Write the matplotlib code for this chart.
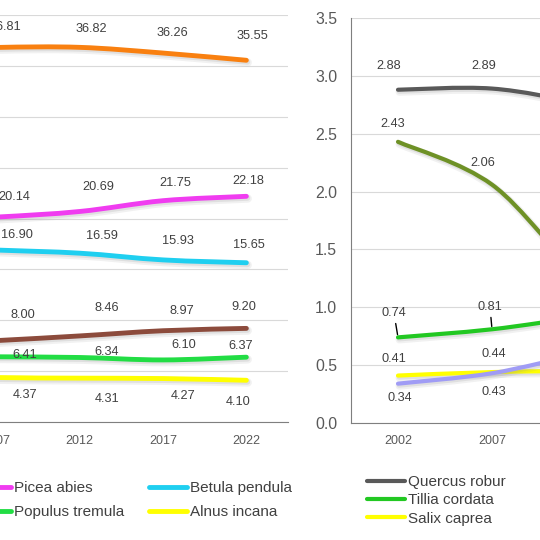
import matplotlib
matplotlib.use("Agg")
import matplotlib.pyplot as plt
from matplotlib.path import Path
from matplotlib.patches import PathPatch
from matplotlib.lines import Line2D
import matplotlib.patheffects as pe

plt.rcParams['font.family'] = ['Liberation Sans', 'DejaVu Sans']

years = ['2002', '2007', '2012', '2017', '2022']

# left chart: main species
left_names = ['Pinus sylvestris', 'Alnus glutinosa', 'Picea abies',
              'Populus tremula', 'Betula pendula', 'Alnus incana']
pinus = [36.50, 36.81, 36.82, 36.26, 35.55]
alnus_glut = [7.60, 8.00, 8.46, 8.97, 9.20]
picea = [19.80, 20.14, 20.69, 21.75, 22.18]
populus = [6.50, 6.41, 6.34, 6.10, 6.37]
betula = [17.20, 16.90, 16.59, 15.93, 15.65]
alnus_inc = [4.60, 4.37, 4.31, 4.27, 4.10]
left_values = [pinus, alnus_glut, picea, populus, betula, alnus_inc]
left_colors = ['#F98010', '#8C4B3C', '#F03CF0', '#22DD44', '#1FCFF0', '#FFFF00']

# right chart: minor species
right_names = ['Quercus robur', 'Tillia cordata', 'Salix caprea',
               'Fraxinus excelsior', 'Acer platanoides']
quercus = [2.88, 2.89, 2.76, 2.62, 2.50]
tillia = [0.74, 0.81, 0.92, 1.00, 1.05]
salix = [0.41, 0.44, 0.45, 0.44, 0.43]
fraxinus = [2.43, 2.06, 1.25, 0.90, 0.80]
acer = [0.34, 0.43, 0.60, 0.70, 0.75]
right_values = [quercus, tillia, salix, fraxinus, acer]
right_colors = ['#595959', '#22C822', '#FFFF00', '#6E9126', '#A09CF5']

# label offsets in pixels (dx, dy down)
left_offsets = [
    [(9, -20), (9, -20), (12, -18), (9, -20), (6, -24)],
    [(26, -26), (26, -26), (27, -28), (19, -20), (-3, -21)],
    [(18, -20), (18, -20), (19, -24), (12, -18), (2, -15)],
    [(28, -2), (28, -2), (27, -5), (21, -15), (-6, -11)],
    [(20, -15), (20, -15), (22, -17), (15, -19), (3, -18)],
    [(29, 17), (29, 17), (27, 21), (20, 17), (-8, 22)],
]
right_offsets = [
    [(-9, -24), (-8, -23), (0, -20), (0, -20), (0, -20)],
    [(-4, -24), (-2, -22), (0, -20), (0, -20), (0, -20)],
    [(-4, -17), (2, -18), (0, -18), (0, -18), (0, -18)],
    [(-5, -18), (-9, -22), (0, -20), (0, -20), (0, -20)],
    [(2, 14), (2, 19), (0, 16), (0, 16), (0, 16)],
]


def smooth_path(xs, ys):
    pts = list(zip(xs, ys))
    verts = [pts[0]]
    codes = [Path.MOVETO]
    for i in range(len(pts) - 1):
        p0 = pts[i - 1] if i > 0 else pts[i]
        p1 = pts[i]
        p2 = pts[i + 1]
        p3 = pts[i + 2] if i + 2 < len(pts) else pts[i + 1]
        c1 = (p1[0] + (p2[0] - p0[0]) / 6, p1[1] + (p2[1] - p0[1]) / 6)
        c2 = (p2[0] - (p3[0] - p1[0]) / 6, p2[1] - (p3[1] - p1[1]) / 6)
        verts += [c1, c2, p2]
        codes += [Path.CURVE4] * 3
    return Path(verts, codes)


def shadow(lw):
    return [pe.SimpleLineShadow(offset=(1.0, -1.6), shadow_color='#909090',
                                alpha=0.12, linewidth=lw + 2.5),
            pe.SimpleLineShadow(offset=(0.8, -1.2), shadow_color='#909090',
                                alpha=0.18, linewidth=lw + 0.5),
            pe.Normal()]


def draw_chart(ax, values, colors, offsets, lw, ymax, ystep, leader=None):
    x = list(range(len(years)))
    for k, (vals, col, offs) in enumerate(zip(values, colors, offsets)):
        patch = PathPatch(smooth_path(x, vals), fill=False, edgecolor=col,
                          lw=lw, capstyle='round', joinstyle='round', zorder=3)
        patch.set_path_effects(shadow(lw))
        ax.add_patch(patch)
        for i, v in enumerate(vals):
            dx, dy = offs[i]
            kw = {}
            if leader is not None and k == leader:
                kw['arrowprops'] = dict(arrowstyle='-', color='black', lw=1.0,
                                        shrinkA=1, shrinkB=2)
            ax.annotate(f'{v:.2f}', (i, v), xytext=(dx * 0.72, -dy * 0.72),
                        textcoords='offset points', ha='center', va='center',
                        fontsize=9.2, color='#404040', zorder=4, **kw)
    ax.set_xlim(-0.5, len(years) - 0.5)
    ax.set_ylim(0, ymax)
    ax.set_xticks(x)
    ax.set_xticklabels(years)
    ticks = [i * ystep for i in range(int(round(ymax / ystep)) + 1)]
    ax.set_yticks(ticks)
    ax.grid(axis='y', color='#D9D9D9', lw=0.8)
    ax.set_axisbelow(True)
    ax.tick_params(axis='x', length=0, pad=9, labelsize=9, labelcolor='#595959')
    ax.tick_params(axis='y', length=0, pad=10, labelsize=11.4, labelcolor='#595959')
    for s in ['top', 'right']:
        ax.spines[s].set_visible(False)
    ax.spines['bottom'].set_color('#7F7F7F')
    ax.spines['left'].set_color('#7F7F7F')


fig = plt.figure(figsize=(5.4, 5.4), dpi=100)

ax1 = fig.add_axes([-128.5 / 540, 118 / 540, 416.5 / 540, 407 / 540])
draw_chart(ax1, left_values, left_colors, left_offsets, 3.5, 40, 5)
ax1.yaxis.set_major_formatter(matplotlib.ticker.FormatStrFormatter('%.0f'))

ax2 = fig.add_axes([351 / 540, 117 / 540, 470 / 540, 405 / 540])
draw_chart(ax2, right_values, right_colors, right_offsets, 3.0, 3.5, 0.5, leader=1)
ax2.yaxis.set_major_formatter(matplotlib.ticker.FormatStrFormatter('%.1f'))

h1 = [Line2D([], [], color=c, lw=3.5, solid_capstyle='round') for c in left_colors]
fig.legend(h1, left_names, loc='upper right', ncol=3,
           bbox_to_anchor=(292 / 540, 1 - 481 / 540), frameon=False,
           fontsize=11, handlelength=2.5, handletextpad=0.2, columnspacing=1.6,
           labelspacing=0.68, borderpad=0, borderaxespad=0, labelcolor='#404040')

h2 = [Line2D([], [], color=c, lw=3.0, solid_capstyle='round') for c in right_colors]
fig.legend(h2, right_names, loc='upper left', ncol=2,
           bbox_to_anchor=(367 / 540, 1 - 475 / 540), frameon=False,
           fontsize=11, handlelength=2.5, handletextpad=0.2, columnspacing=3,
           labelspacing=0.28, borderpad=0, borderaxespad=0, labelcolor='#404040')

fig.savefig('out.png', dpi=100)
